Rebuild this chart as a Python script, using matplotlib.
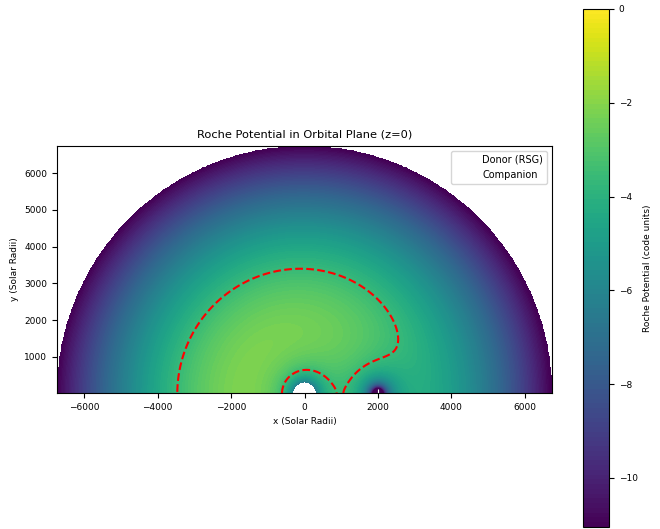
import numpy as np
import matplotlib
matplotlib.use("Agg")
import matplotlib.pyplot as plt

# binary set-up (solar radii)
separation = 2000.0
donor_pos = [0.0, 0.0]
companion_pos = [2000.0, 0.0]
donor_radius = 310.0
grid_radius = 6740.0

# potential terms in code units (lengths in units of the separation)
donor_term = 0.902
companion_term = 0.790
spin_term = 0.938
spin_centre = 0.005
lobe_level = -3.64

pot_min = -11.05
pot_max = 0.0
cbar_ticks = [0, -2, -4, -6, -8, -10]

x = np.linspace(-grid_radius, grid_radius, 700)
y = np.linspace(20.0, grid_radius, 350)
X, Y = np.meshgrid(x, y)
xs = X / separation
ys = Y / separation
r1 = np.hypot(xs - donor_pos[0] / separation, ys)
r2 = np.hypot(xs - companion_pos[0] / separation, ys)
phi = -donor_term / r1 - companion_term / r2 - spin_term * ((xs - spin_centre) ** 2 + ys ** 2)

mask = (np.hypot(X, Y) > grid_radius) | (r1 * separation < donor_radius)
phi_fill = np.ma.masked_where(mask, np.clip(phi, pot_min, pot_max))
phi_line = np.ma.masked_where(mask, phi)

plt.rcParams["font.size"] = 6.5
fig = plt.figure(figsize=(6.6, 5.29), dpi=100)
ax = fig.add_axes([57 / 660, 1 - 393 / 529, 495 / 660, 247 / 529])
cax = fig.add_axes([583 / 660, 1 - 527 / 529, 26 / 660, 518 / 529])

cf = ax.contourf(X, Y, phi_fill, levels=np.linspace(pot_min, pot_max, 110), cmap="viridis")
ax.contour(X, Y, phi_line, levels=[lobe_level], colors="red", linestyles="--", linewidths=1.5)

ax.plot(donor_pos[0], donor_pos[1], "o", color="white", ms=4, label="Donor (RSG)")
ax.plot(companion_pos[0], companion_pos[1], "+", color="white", ms=7, mew=0.8, label="Companion")

ax.set_xlim(-grid_radius, grid_radius)
ax.set_ylim(20.0, grid_radius)
ax.set_title("Roche Potential in Orbital Plane (z=0)", fontsize=8.2)
ax.set_xlabel("x (Solar Radii)")
ax.set_ylabel("y (Solar Radii)")
ax.legend(loc="upper right", fontsize=7)

cb = fig.colorbar(cf, cax=cax)
cb.set_ticks(cbar_ticks)
cb.set_label("Roche Potential (code units)")

fig.savefig("out.png")
